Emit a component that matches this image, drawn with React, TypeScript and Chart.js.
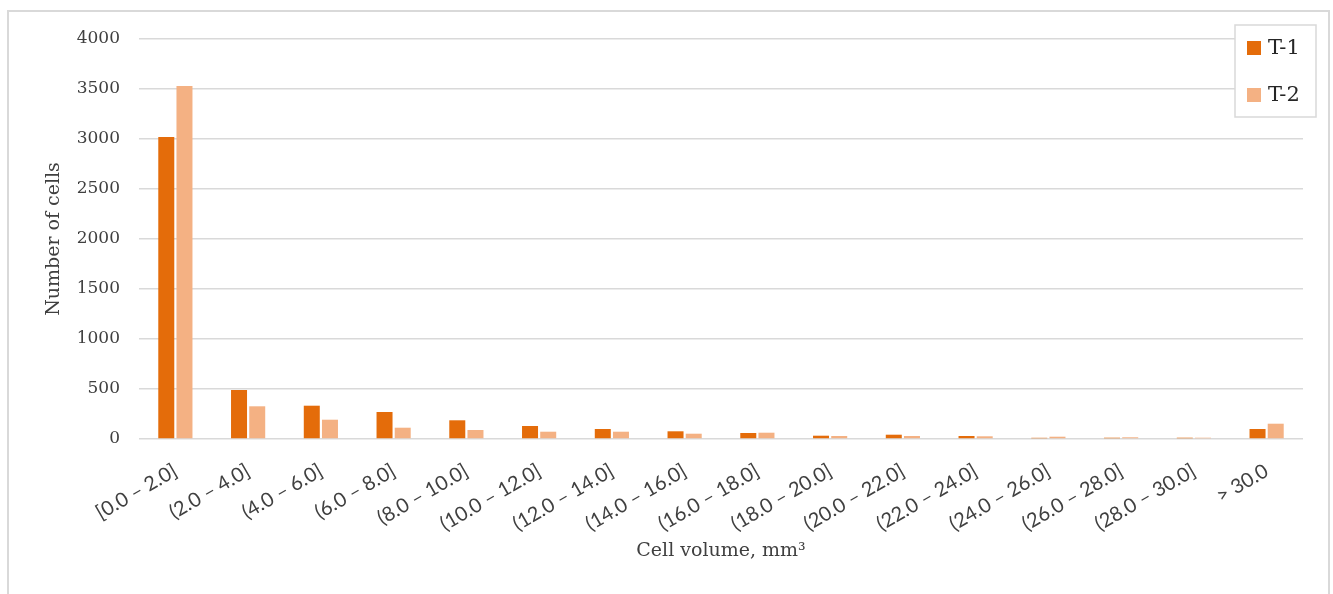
import { useEffect, useRef } from 'react';
import { Chart, registerables, Plugin } from 'chart.js';

Chart.register(...registerables);

const volumeBins = [
  '[0.0 – 2.0]',
  '(2.0 – 4.0]',
  '(4.0 – 6.0]',
  '(6.0 – 8.0]',
  '(8.0 – 10.0]',
  '(10.0 – 12.0]',
  '(12.0 – 14.0]',
  '(14.0 – 16.0]',
  '(16.0 – 18.0]',
  '(18.0 – 20.0]',
  '(20.0 – 22.0]',
  '(22.0 – 24.0]',
  '(24.0 – 26.0]',
  '(26.0 – 28.0]',
  '(28.0 – 30.0]',
  '> 30.0',
];
const t1Counts = [3020, 490, 333, 270, 187, 130, 100, 77, 60, 33, 43, 30, 12, 13, 13, 100];
const t2Counts = [3530, 327, 193, 113, 90, 73, 73, 53, 63, 30, 30, 27, 23, 17, 13, 153];
const yMax = 4000;
const yStep = 500;

const serif = '"DejaVu Serif", serif';

// floating legend with a frame, drawn over the plot like the original
const legendBox: Plugin<'bar'> = {
  id: 'legendBox',
  afterDraw(chart) {
    const { ctx } = chart;
    const x = 1235;
    const y = 25;
    const w = 81;
    const h = 92;
    ctx.save();
    ctx.fillStyle = '#ffffff';
    ctx.fillRect(x, y, w, h);
    ctx.strokeStyle = '#d9d9d9';
    ctx.lineWidth = 1.5;
    ctx.strokeRect(x, y, w, h);
    ctx.font = `21px ${serif}`;
    ctx.textBaseline = 'middle';
    chart.data.datasets.forEach((ds, i) => {
      const cy = y + 23 + i * 47;
      ctx.fillStyle = ds.backgroundColor as string;
      ctx.fillRect(x + 12, cy - 7, 14, 14);
      ctx.fillStyle = '#262626';
      ctx.fillText(ds.label ?? '', x + 33, cy + 1);
    });
    ctx.restore();
  },
};

export default function App() {
  const chartRef = useRef<HTMLCanvasElement>(null);
  const chartInstance = useRef<Chart | null>(null);

  useEffect(() => {
    if (!chartRef.current) return;
    if (chartInstance.current) chartInstance.current.destroy();

    chartInstance.current = new Chart(chartRef.current, {
      type: 'bar',
      data: {
        labels: volumeBins,
        datasets: [
          {
            label: 'T-1',
            data: t1Counts,
            backgroundColor: '#e46c0a',
            categoryPercentage: 0.5,
            barPercentage: 0.88,
          },
          {
            label: 'T-2',
            data: t2Counts,
            backgroundColor: '#f4b183',
            categoryPercentage: 0.5,
            barPercentage: 0.88,
          },
        ],
      },
      options: {
        responsive: true,
        maintainAspectRatio: false,
        animation: false,
        layout: { padding: { top: 39, right: 30, bottom: 0, left: 40 } },
        plugins: {
          legend: { display: false },
          tooltip: { enabled: false },
        },
        scales: {
          x: {
            grid: { display: false },
            border: { display: false },
            ticks: {
              color: '#404040',
              font: { family: 'Lato, sans-serif', size: 20 },
              minRotation: 30,
              maxRotation: 30,
              padding: 12,
              autoSkip: false,
            },
            title: {
              display: true,
              text: 'Cell volume, mm³',
              color: '#404040',
              font: { family: serif, size: 19 },
              padding: { top: 0, bottom: 32 },
            },
            afterFit: (scale) => {
              scale.height = 155;
            },
          },
          y: {
            min: 0,
            max: yMax,
            grid: { color: '#d9d9d9', lineWidth: 1.5, drawTicks: false },
            border: { display: false },
            ticks: {
              stepSize: yStep,
              color: '#404040',
              font: { family: serif, size: 17 },
              padding: 19,
              callback: (value) => String(value),
            },
            title: {
              display: true,
              text: 'Number of cells',
              color: '#404040',
              font: { family: serif, size: 19 },
              padding: { top: 3, bottom: 10 },
            },
            afterFit: (scale) => {
              scale.width = 99;
            },
          },
        },
      },
      plugins: [legendBox],
    });

    return () => {
      if (chartInstance.current) {
        chartInstance.current.destroy();
        chartInstance.current = null;
      }
    };
  }, []);

  return (
    <div style={{ position: 'fixed', left: 0, top: 0, width: 1333, height: 594, background: '#fff' }}>
      <canvas ref={chartRef} />
      <div
        style={{
          position: 'absolute',
          left: 7,
          top: 10,
          width: 1323,
          height: 600,
          border: '2px solid #d9d9d9',
          boxSizing: 'border-box',
          pointerEvents: 'none',
        }}
      />
    </div>
  );
}
